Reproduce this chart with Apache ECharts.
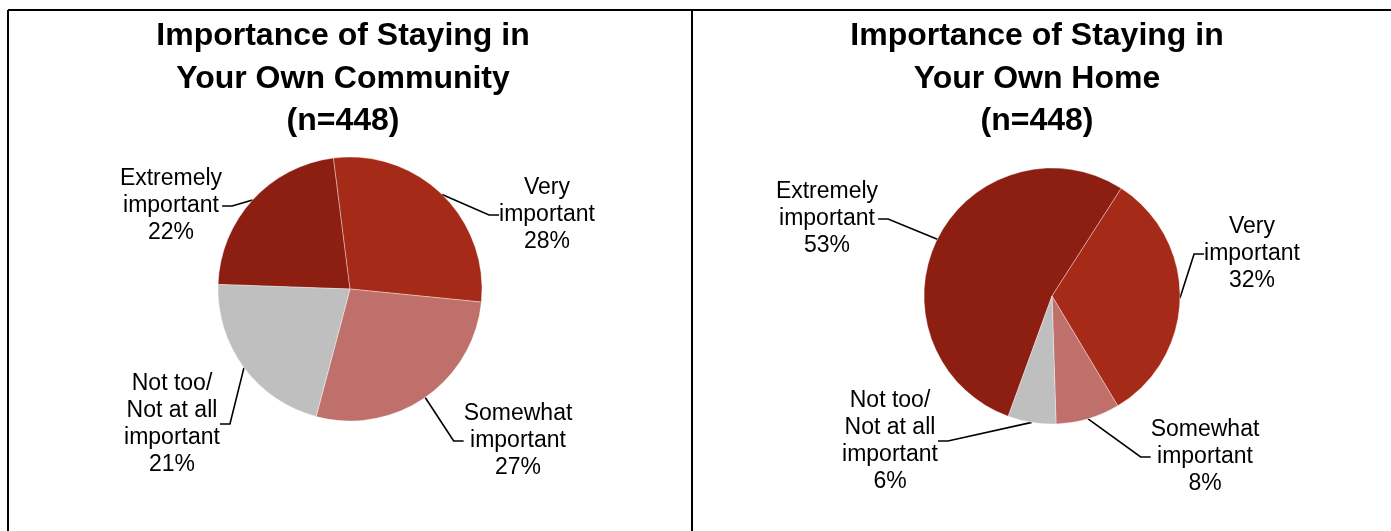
<!DOCTYPE html>
<html>
<head>
<meta charset="utf-8">
<script src="https://cdn.jsdelivr.net/npm/echarts@6/dist/echarts.min.js"></script>
<style>
html,body{margin:0;padding:0;background:#fff;}
#c{width:1391px;height:531px;}
</style>
</head>
<body>
<div id="c"></div>
<script>
// ---- data ----
const categories = ['Extremely\nimportant', 'Very\nimportant', 'Somewhat\nimportant', 'Not too/\nNot at all\nimportant'];
const communityValues = [22, 28, 27, 21];
const homeValues = [53, 32, 8, 6];
const titleCommunity = 'Importance of Staying in\nYour Own Community\n(n=448)';
const titleHome = 'Importance of Staying in\nYour Own Home\n(n=448)';

// ---- styling / layout ----
const colors = ['#8C1F12', '#A52A17', '#C0706A', '#BFBFBF'];
const FONT = '"Liberation Sans", Arial, sans-serif';
const leftLabelPos = [[171, 206, 'center'], [547, 215, 'center'], [518, 441, 'center'], [172, 424, 'center']];
const rightLabelPos = [[827, 219, 'center'], [1252, 254, 'center'], [1205, 457, 'center'], [890, 441, 'center']];

function makeData(vals) {
  return vals.map((v, i) => ({ name: categories[i], value: v, itemStyle: { color: colors[i] } }));
}

function pieSeries(vals, center, radius, startAngle, pos) {
  return {
    type: 'pie',
    center: center,
    radius: radius,
    startAngle: startAngle,
    clockwise: true,
    animation: false,
    data: makeData(vals),
    itemStyle: { borderColor: 'rgba(255,255,255,0.6)', borderWidth: 0.6 },
    label: {
      show: true,
      position: 'outside',
      formatter: p => p.name + '\n' + p.value + '%',
      fontFamily: FONT,
      fontSize: 23,
      lineHeight: 27,
      color: '#000',
      align: 'center'
    },
    labelLine: {
      show: true,
      length: 15,
      length2: 10,
      lineStyle: { color: '#000', width: 1.6 }
    },
    labelLayout: function (params) {
      const p = pos[params.dataIndex];
      return { x: p[0], y: p[1], align: p[2], verticalAlign: 'middle' };
    },
    emphasis: { disabled: true }
  };
}

const chart = echarts.init(document.getElementById('c'), null, { renderer: 'canvas' });
chart.setOption({
  backgroundColor: '#fff',
  title: [
    { text: titleCommunity, left: 338, top: 10, textAlign: 'center',
      textStyle: { fontFamily: FONT, fontWeight: 'bold', fontSize: 32, lineHeight: 42.5, color: '#000' } },
    { text: titleHome, left: 1032, top: 10, textAlign: 'center',
      textStyle: { fontFamily: FONT, fontWeight: 'bold', fontSize: 32, lineHeight: 42.5, color: '#000' } }
  ],
  graphic: [
    { type: 'line', shape: { x1: 8, y1: 10, x2: 1391, y2: 10 }, style: { stroke: '#000', lineWidth: 2 } },
    { type: 'line', shape: { x1: 8, y1: 10, x2: 8, y2: 531 }, style: { stroke: '#000', lineWidth: 2 } },
    { type: 'line', shape: { x1: 692, y1: 10, x2: 692, y2: 531 }, style: { stroke: '#000', lineWidth: 2 } }
  ],
  series: [
    pieSeries(communityValues, [350, 289], 132, 178, leftLabelPos),
    pieSeries(homeValues, [1052, 296], 128, 250, rightLabelPos)
  ]
});
</script>
</body>
</html>
